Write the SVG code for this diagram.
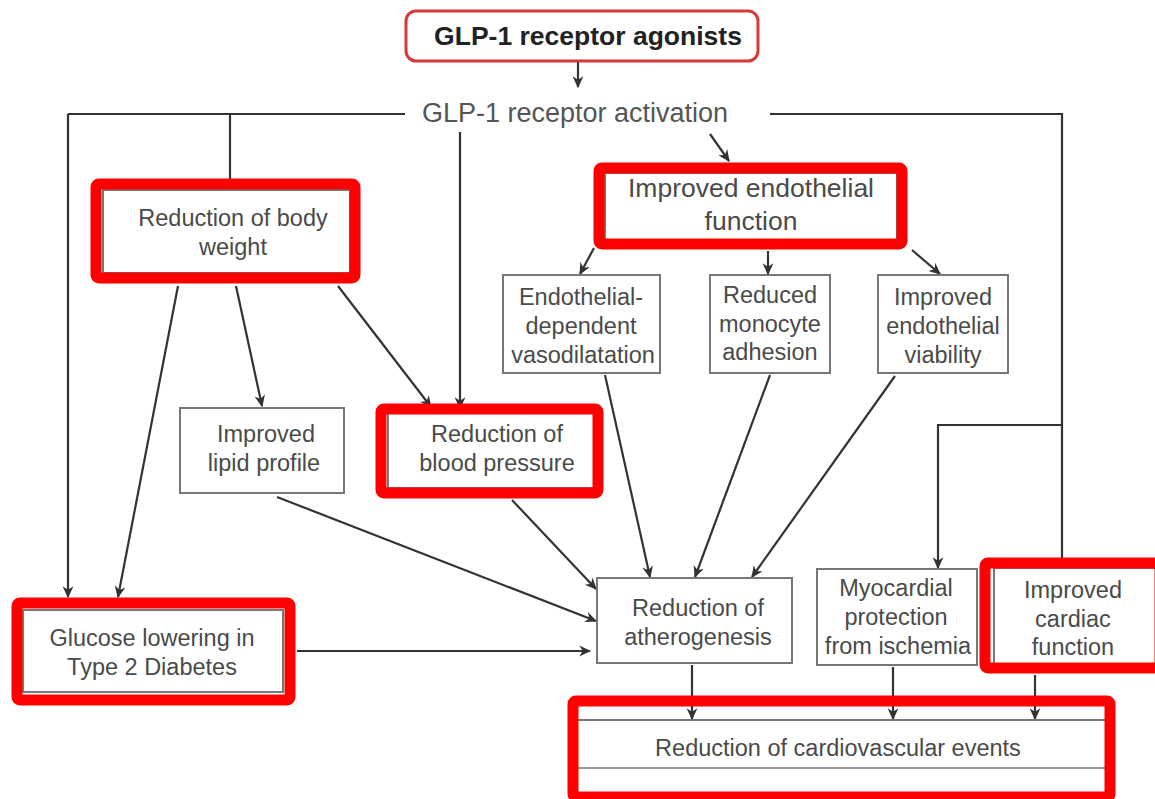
<svg xmlns="http://www.w3.org/2000/svg" width="1155" height="799" viewBox="0 0 1155 799">
<style>
.bg{fill:#fff}
.box{fill:#fff;stroke:#777;stroke-width:2}
.hl{fill:none;stroke:#ff0000;stroke-width:11}
.t{font-family:"Liberation Sans",Arial,sans-serif;font-size:23.5px;fill:#4a4a4a;text-anchor:middle}
.tb{font-family:"Liberation Sans",Arial,sans-serif;font-size:26.5px;fill:#4a4a4a;text-anchor:middle}
.title{font-family:"Liberation Sans",Arial,sans-serif;font-size:26.5px;font-weight:bold;fill:#222;text-anchor:middle}
.act{font-family:"Liberation Sans",Arial,sans-serif;font-size:27px;fill:#555;text-anchor:middle}
.c{fill:none;stroke:#333;stroke-width:2.2}
.ca{fill:none;stroke:#333;stroke-width:2.2;marker-end:url(#ah)}
</style>
<defs>
<marker id="ah" viewBox="0 0 10 10" refX="9" refY="5" markerWidth="12" markerHeight="12" markerUnits="userSpaceOnUse" orient="auto">
<path d="M0,0.5 L10,5 L0,9.5 L3,5 z" fill="#333"/>
</marker>
</defs>
<rect class="bg" x="0" y="0" width="1155" height="799"/>

<g id="connectors">
<path class="ca" d="M578,62 L578,87"/>
<path class="c" d="M405,114 L68,114"/>
<path class="ca" d="M68,114 L68,597"/>
<path class="c" d="M230,114 L230,188"/>
<path class="ca" d="M460,132 L460,408"/>
<path class="c" d="M770,114 L1062,114 L1062,566"/>
<path class="ca" d="M1062,425 L938,425 L938,568"/>
<path class="ca" d="M710,134 L729,161"/>
<path class="ca" d="M594,248 L580,274"/>
<path class="ca" d="M768,251 L768,274"/>
<path class="ca" d="M912,250 L940,274"/>
<path class="ca" d="M178,286 L118,597"/>
<path class="ca" d="M236,286 L262,406"/>
<path class="ca" d="M338,286 L431,407"/>
<path class="ca" d="M277,497 L596,621"/>
<path class="ca" d="M512,500 L596,589"/>
<path class="ca" d="M605,375 L650,577"/>
<path class="ca" d="M770,375 L695,577"/>
<path class="ca" d="M895,376 L752,577"/>
<path class="ca" d="M297,651 L590,651"/>
<path class="ca" d="M692,665 L692,719"/>
<path class="ca" d="M893,667 L893,719"/>
<path class="ca" d="M1035,675 L1035,719"/>
</g>

<g id="agonists">
<rect x="406" y="11" width="352" height="50" rx="10" fill="#fff" stroke="#d9383a" stroke-width="3"/>
<text class="title" x="588" y="45">GLP-1 receptor agonists</text>
</g>

<g id="activation">
<text class="act" x="575" y="122">GLP-1 receptor activation</text>
</g>

<g id="body-weight">
<rect class="box" x="103" y="190" width="247" height="83"/>
<rect class="hl" x="96" y="184" width="259" height="94" rx="3"/>
<text class="t" x="233" y="226">Reduction of body</text>
<text class="t" x="233" y="255">weight</text>
</g>

<g id="endothelial">
<rect class="box" x="605" y="173" width="292" height="67"/>
<rect class="hl" x="599" y="168" width="303" height="76" rx="3"/>
<text class="tb" x="751" y="197">Improved endothelial</text>
<text class="tb" x="751" y="230">function</text>
</g>

<g id="vasodilatation">
<rect class="box" x="503" y="275" width="157" height="98"/>
<text class="t" x="581" y="305">Endothelial-</text>
<text class="t" x="581" y="334">dependent</text>
<text class="t" x="583" y="363">vasodilatation</text>
</g>

<g id="monocyte">
<rect class="box" x="710" y="275" width="120" height="98"/>
<text class="t" x="770" y="303">Reduced</text>
<text class="t" x="770" y="332">monocyte</text>
<text class="t" x="770" y="360">adhesion</text>
</g>

<g id="viability">
<rect class="box" x="878" y="275" width="130" height="98"/>
<text class="t" x="943" y="305">Improved</text>
<text class="t" x="943" y="334">endothelial</text>
<text class="t" x="943" y="363">viability</text>
</g>

<g id="lipid">
<rect class="box" x="180" y="408" width="164" height="85"/>
<text class="t" x="266" y="442">Improved</text>
<text class="t" x="264" y="471">lipid profile</text>
</g>

<g id="blood-pressure">
<rect class="box" x="388" y="413" width="207" height="75"/>
<rect class="hl" x="381" y="409" width="217" height="84" rx="3"/>
<text class="t" x="497" y="442">Reduction of</text>
<text class="t" x="497" y="471">blood pressure</text>
</g>

<g id="atherogenesis">
<rect class="box" x="597" y="578" width="195" height="85"/>
<text class="t" x="698" y="616">Reduction of</text>
<text class="t" x="698" y="645">atherogenesis</text>
</g>

<g id="myocardial">
<rect class="box" x="817" y="569" width="160" height="96"/>
<text class="t" x="896" y="596">Myocardial</text>
<text class="t" x="896" y="625">protection</text>
<text class="t" x="898" y="654">from ischemia</text>
</g>

<g id="cardiac">
<rect class="box" x="994" y="568" width="163" height="96"/>
<rect class="hl" x="985" y="563" width="175" height="105" rx="3"/>
<text class="t" x="1073" y="598">Improved</text>
<text class="t" x="1073" y="627">cardiac</text>
<text class="t" x="1073" y="655">function</text>
</g>

<g id="glucose">
<rect class="box" x="23" y="610" width="260" height="82"/>
<rect class="hl" x="17" y="603" width="273" height="97" rx="3"/>
<text class="t" x="152" y="646">Glucose lowering in</text>
<text class="t" x="152" y="675">Type 2 Diabetes</text>
</g>

<g id="cv-events">
<line x1="578" y1="720" x2="1107" y2="720" stroke="#777" stroke-width="2"/>
<line x1="578" y1="768" x2="1107" y2="768" stroke="#999" stroke-width="2"/>
<rect class="hl" x="573" y="701" width="537" height="96" rx="3"/>
<text class="t" x="838" y="756">Reduction of cardiovascular events</text>
</g>
</svg>
